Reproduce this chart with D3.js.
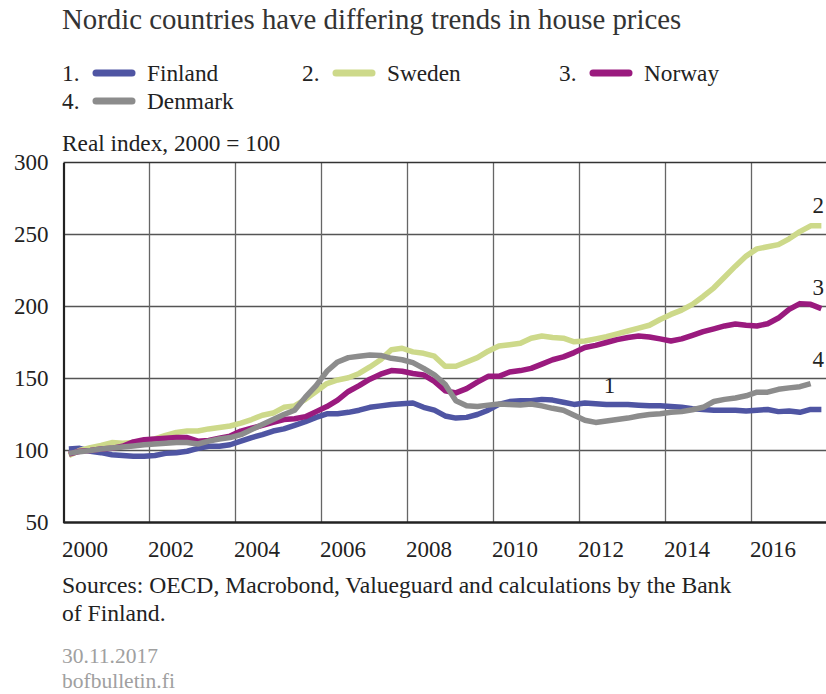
<!DOCTYPE html>
<html>
<head>
<meta charset="utf-8">
<script src="https://cdn.jsdelivr.net/npm/d3@7"></script>
<style>
  body { margin: 0; background: #fff; }
  svg { display: block; font-family: "Liberation Serif", "Times New Roman", serif; }
</style>
</head>
<body>
<div id="chart"></div>
<script>
// Quarterly data, 2000Q1 onwards (real index, 2000 = 100)
const startYear = 2000;

const finland = [
  101, 101.5, 99.5, 98.5,   97, 96.5, 96, 96,   96.5, 98, 98.5, 99.5,   101.5, 103, 103, 104,
  106.5, 109, 111, 113.5,   115, 117.5, 120, 123,   125.5, 125.5, 126.5, 128,   130, 131, 132, 132.5,
  133, 130, 128, 124,   122.5, 123, 125, 128,   132, 134, 134.5, 134.5,   135.5, 135, 133.5, 132,
  133, 132.5, 132, 132,   132, 131.5, 131, 131,   130.5, 130, 129, 128.5,   128, 128, 128, 127.5,
  128, 128.5, 127, 127.5,   126.5, 128.5, 128.5
];

const sweden = [
  96.5, 100, 102, 103.5,   105.5, 105, 105.5, 107,   108, 110.5, 112.5, 113.5,   113.5, 115, 116, 117,
  119, 121.5, 124.5, 126,   130, 131, 135.5, 141,   146.5, 149, 150.5, 153.5,   158, 163, 170, 171,
  168.5, 167.5, 165.5, 158.5,   158.5, 161.5, 164.5, 169,   172.5, 173.5, 174.5, 178,   179.5, 178.5, 178, 175.5,
  176, 177.5, 179, 181,   183, 185, 187, 191,   194.5, 197.5, 201.5, 207,   213, 220.5, 228, 235,
  240, 241.5, 243, 247,   252, 256, 256
];

const norway = [
  97.5, 99.5, 100, 101,   101.5, 103, 106, 107.5,   108, 108.5, 109, 109,   106.5, 107, 108.5, 110,
  113.5, 115.5, 117.5, 119.5,   121.5, 122, 123.5, 127,   130.5, 135, 141, 145,   149.5, 153, 155.5, 155,
  153.5, 152.5, 148, 141.5,   140, 143, 147.5, 151.5,   151.5, 154.5, 155.5, 157,   160, 163, 165, 168,
  171.5, 173, 175, 177,   178.5, 179.5, 178.8, 177.5,   176, 177.5, 180, 182.5,   184.5, 186.5, 187.8, 187,
  186.5, 188, 192, 198,   202, 201.5, 198.5
];

const denmark = [
  98, 99.2, 100, 101,   101.8, 102.5, 103.2, 104,   104.5, 105, 105.5, 105.5,   104.5, 106.5, 108, 109,
  111, 114.5, 118, 121.5,   125, 128, 137, 145,   155, 161.5, 164.5, 165.5,   166.3, 166, 164, 163,
  161, 157, 152.5, 146,   134.5, 131, 130.5, 131.5,   132.3, 132, 131.6, 132.3,   131, 129.3, 128, 124.5,
  121, 119.5, 120.5, 121.5,   122.5, 124, 125, 125.5,   126.5, 127, 128.3, 130,   134, 135.5, 136.5, 138,
  140.5, 140.5, 142.5, 143.5,   144.3, 146.5
];

const seriesNames = ["Finland", "Sweden", "Norway", "Denmark"];
const seriesColors = ["#4f55a3", "#cdd98a", "#9a1a7e", "#8c8c8c"];
const yTicks = [50, 100, 150, 200, 250, 300];
const xTicks = [2000, 2002, 2004, 2006, 2008, 2010, 2012, 2014, 2016];

const series = [finland, sweden, norway, denmark].map((vals, i) => ({
  name: seriesNames[i],
  color: seriesColors[i],
  values: vals.map((v, q) => ({ t: startYear + q / 4 + 0.125, v: v }))
}));

const W = 826, H = 694;
const svg = d3.select("#chart").append("svg")
  .attr("width", W)
  .attr("height", H);

// plot box
const plotL = 63.5, plotR = 826.75, plotT = 162.5, plotB = 522.5;

const x = d3.scaleLinear().domain([2000, 2017.75]).range([plotL, plotR]);
const y = d3.scaleLinear().domain([50, 300]).range([plotB, plotT]);

// Title
svg.append("text")
  .attr("x", 62).attr("y", 29)
  .attr("font-size", 28.8)
  .attr("fill", "#333")
  .text("Nordic countries have differing trends in house prices");

// Legend
const legendPos = [
  { x: 62, y: 81 }, { x: 302, y: 81 }, { x: 559, y: 81 }, { x: 62, y: 109 }
];
series.forEach((s, i) => {
  const p = legendPos[i];
  const g = svg.append("g").attr("transform", `translate(${p.x},${p.y})`);
  g.append("text").attr("font-size", 23.3).attr("fill", "#222").text((i + 1) + ".");
  g.append("line")
    .attr("x1", 34).attr("x2", 70)
    .attr("y1", -8).attr("y2", -8)
    .attr("stroke", s.color)
    .attr("stroke-width", 7)
    .attr("stroke-linecap", "round");
  g.append("text").attr("x", 85).attr("font-size", 23.3).attr("fill", "#222").text(s.name);
});

// Unit label
svg.append("text")
  .attr("x", 62).attr("y", 151)
  .attr("font-size", 23.3)
  .attr("fill", "#222")
  .text("Real index, 2000 = 100");

// Grid
svg.append("g")
  .selectAll("line")
  .data(yTicks.filter(d => d > 50 && d < 300))
  .enter().append("line")
  .attr("x1", plotL).attr("x2", W)
  .attr("y1", d => y(d)).attr("y2", d => y(d))
  .attr("stroke", "#555")
  .attr("stroke-width", 1.3);

svg.append("g")
  .selectAll("line")
  .data(xTicks.filter(d => d > 2000))
  .enter().append("line")
  .attr("x1", d => x(d)).attr("x2", d => x(d))
  .attr("y1", plotT).attr("y2", plotB)
  .attr("stroke", "#666")
  .attr("stroke-width", 1.3);

// top border
svg.append("line")
  .attr("x1", plotL).attr("x2", W)
  .attr("y1", plotT).attr("y2", plotT)
  .attr("stroke", "#333")
  .attr("stroke-width", 1.5);

// Lines
svg.append("clipPath").attr("id", "plotclip")
  .append("rect")
  .attr("x", plotL).attr("y", plotT - 10)
  .attr("width", W - plotL).attr("height", plotB - plotT + 10);

const line = d3.line()
  .x(d => x(d.t))
  .y(d => y(d.v));

svg.append("g")
  .attr("clip-path", "url(#plotclip)")
  .selectAll("path")
  .data(series)
  .enter().append("path")
  .attr("d", d => line(d.values))
  .attr("fill", "none")
  .attr("stroke", d => d.color)
  .attr("stroke-width", 5.5)
  .attr("stroke-linejoin", "round");

// Axes
const yAxis = svg.append("g")
  .attr("transform", `translate(${plotL},0)`)
  .call(d3.axisLeft(y).tickValues(yTicks).tickSize(0).tickPadding(15));
yAxis.select(".domain").attr("stroke", "#222").attr("stroke-width", 2.2);
yAxis.selectAll("text")
  .attr("font-family", "Liberation Serif, serif")
  .attr("font-size", 23)
  .attr("fill", "#222");

const xAxis = svg.append("g")
  .attr("transform", `translate(0,${plotB})`)
  .call(d3.axisBottom(x).tickValues(xTicks).tickFormat(d3.format("d")).tickSize(0).tickPadding(0));
xAxis.select(".domain").attr("stroke", "#222").attr("stroke-width", 2.5)
  .attr("d", `M${plotL},0H${W}`);
xAxis.selectAll(".tick")
  .attr("transform", d => `translate(${x(d + 0.5)},0)`);
xAxis.selectAll("text")
  .attr("y", 34).attr("dy", null)
  .attr("font-family", "Liberation Serif, serif")
  .attr("font-size", 23)
  .attr("fill", "#222");

// Series number labels
const numLabels = [
  { n: "1", t: 2012.7, v: 140 },
  { n: "2", t: 2017.55, v: 265 },
  { n: "3", t: 2017.55, v: 208 },
  { n: "4", t: 2017.55, v: 158 }
];
svg.append("g")
  .selectAll("text")
  .data(numLabels)
  .enter().append("text")
  .attr("x", d => x(d.t))
  .attr("y", d => y(d.v))
  .attr("text-anchor", "middle")
  .attr("font-size", 23)
  .attr("fill", "#222")
  .text(d => d.n);

// Footer
svg.append("text")
  .attr("x", 62).attr("y", 593)
  .attr("font-size", 23.6).attr("fill", "#222")
  .text("Sources: OECD, Macrobond, Valueguard and calculations by the Bank");
svg.append("text")
  .attr("x", 62).attr("y", 621)
  .attr("font-size", 23.6).attr("fill", "#222")
  .text("of Finland.");
svg.append("text")
  .attr("x", 62).attr("y", 663)
  .attr("font-size", 21.5).attr("fill", "#a0a0a0")
  .text("30.11.2017");
svg.append("text")
  .attr("x", 62).attr("y", 688)
  .attr("font-size", 21.5).attr("fill", "#a0a0a0")
  .text("bofbulletin.fi");
</script>
</body>
</html>
